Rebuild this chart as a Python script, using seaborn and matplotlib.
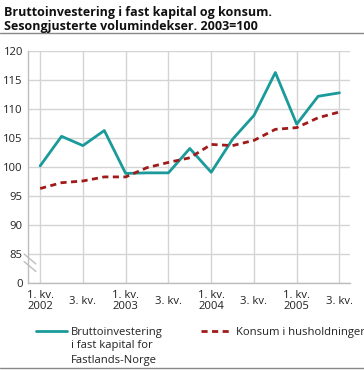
import numpy as np
import pandas as pd
import seaborn as sns
import matplotlib.pyplot as plt
from matplotlib.lines import Line2D

# quarters 2002 Q1 .. 2005 Q3
quarters = ["2002K1", "2002K2", "2002K3", "2002K4",
            "2003K1", "2003K2", "2003K3", "2003K4",
            "2004K1", "2004K2", "2004K3", "2004K4",
            "2005K1", "2005K2", "2005K3"]
investering = [100.2, 105.3, 103.7, 106.3, 98.9, 99.0, 99.0, 103.2,
               99.1, 104.8, 108.9, 116.3, 107.4, 112.2, 112.8]
konsum = [96.3, 97.3, 97.6, 98.3, 98.3, 99.9, 100.8, 101.6,
          103.9, 103.7, 104.6, 106.5, 106.8, 108.5, 109.5]
xlabels = ["1. kv.\n2002", "3. kv.", "1. kv.\n2003", "3. kv.",
           "1. kv.\n2004", "3. kv.", "1. kv.\n2005", "3. kv."]
yticks = [80, 85, 90, 95, 100, 105, 110, 115, 120]
ylabels = ["0", "85", "90", "95", "100", "105", "110", "115", "120"]

lab_inv = "Bruttoinvestering"
lab_inv_rest = "i fast kapital for\nFastlands-Norge"
lab_kon = "Konsum i husholdninger"

df = pd.DataFrame({"q": np.arange(len(quarters)),
                   "inv": investering, "kon": konsum})

sns.set_style("white")
plt.rcParams["font.family"] = ["Open Sans", "DejaVu Sans"]

teal = "#1a9a9a"
red = "#a01a1a"
grid = "#d4d4d4"
txt = "#222222"
fs = 8.1

fig = plt.figure(figsize=(3.64, 3.70), dpi=100)
ax = fig.add_axes([0.078, 0.235, 0.884, 0.627])

sns.lineplot(data=df, x="q", y="inv", ax=ax, color=teal, lw=2, zorder=3)
sns.lineplot(data=df, x="q", y="kon", ax=ax, color=red, lw=2,
             linestyle=(0, (2.2, 1.6)), zorder=3)

ax.set_xlim(-0.55, 14.5)
ax.set_ylim(80, 120)
ax.set_yticks(yticks)
ax.set_yticklabels(ylabels)
ax.set_xticks(np.arange(0, 15, 2))
ax.set_xticklabels(xlabels, va="center", linespacing=1.0)
ax.set_xticks(np.arange(0, 15, 1), minor=True)
ax.set_xlabel("")
ax.set_ylabel("")

ax.grid(True, which="major", color=grid, lw=1)
ax.tick_params(axis="x", which="both", direction="in", length=4,
               color=grid, pad=13, labelsize=fs, labelcolor=txt)
ax.tick_params(axis="y", length=0, pad=4, labelsize=fs, labelcolor=txt)
for s in ["top", "right"]:
    ax.spines[s].set_visible(False)
for s in ["left", "bottom"]:
    ax.spines[s].set_color("#bdbdbd")
    ax.spines[s].set_linewidth(1)

# axis break mark
for dy in (0, 1.3):
    ax.plot([-0.75, -0.2], [85.0 - dy, 83.3 - dy], color="#bdbdbd", lw=1,
            transform=ax.transData, clip_on=False, zorder=4)

fig.text(0.012, 0.985, "Bruttoinvestering i fast kapital og konsum.\n"
         "Sesongjusterte volumindekser. 2003=100",
         fontsize=9.0, fontweight="bold", va="top", ha="left",
         color="#111111", linespacing=1.15)
fig.add_artist(Line2D([0, 1], [0.91, 0.91], color="#888888", lw=1))
fig.add_artist(Line2D([0, 1], [0.006, 0.006], color="#888888", lw=1))

handles = [Line2D([], [], color=teal, lw=2),
           Line2D([], [], color=red, lw=2, linestyle=(0, (2.2, 1.6)))]
leg = fig.legend(handles, [lab_inv, lab_kon], ncol=2, frameon=False,
                 loc="upper left", bbox_to_anchor=(0.10, 0.117),
                 fontsize=fs, handlelength=2.7, handletextpad=0.4,
                 columnspacing=3.4, borderaxespad=0, borderpad=0)
for t in leg.get_texts():
    t.set_color(txt)

fig.canvas.draw()
bb = leg.get_texts()[0].get_window_extent().transformed(fig.transFigure.inverted())
fig.text(bb.x0, bb.y0 - 0.006, lab_inv_rest, fontsize=fs, color=txt,
         va="top", ha="left", linespacing=1.45)

fig.savefig("out.png", dpi=100)
